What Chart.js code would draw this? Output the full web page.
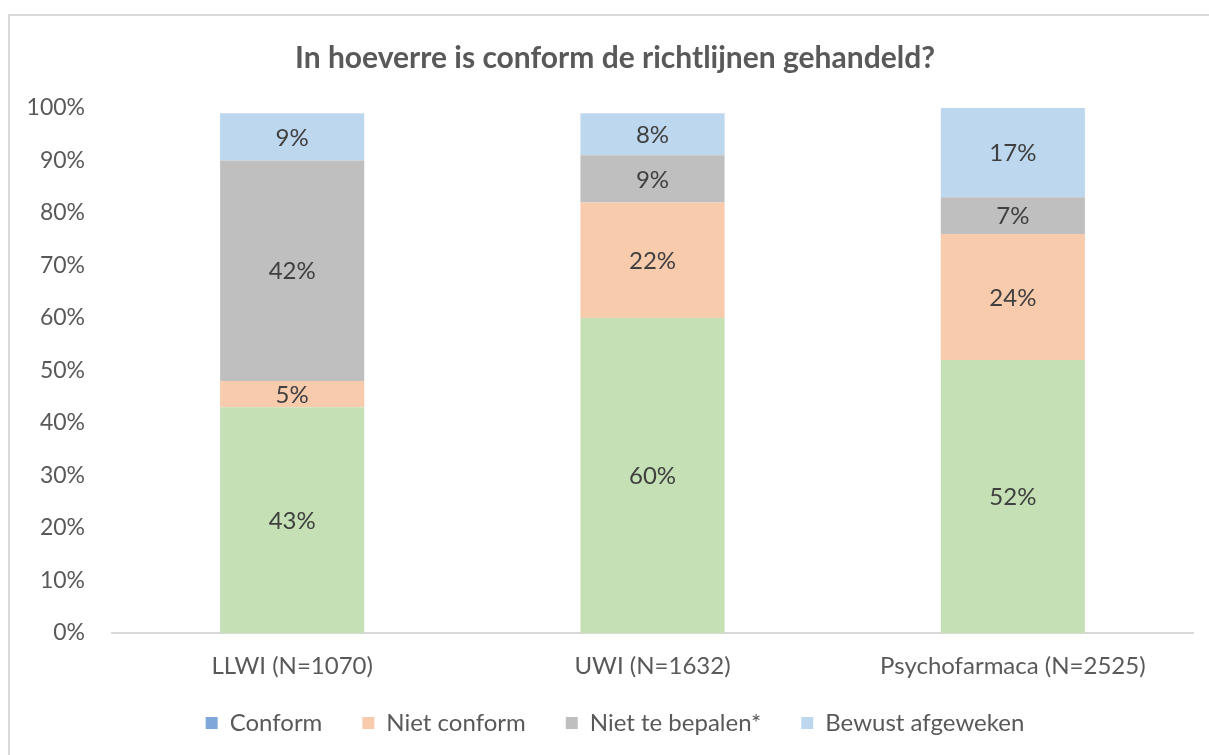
<!DOCTYPE html>
<html>
<head>
<meta charset="utf-8">
<script src="https://cdn.jsdelivr.net/npm/chart.js@4"></script>
<style>
  html, body { margin: 0; padding: 0; background: #fff; overflow: hidden; }
  #wrap { position: relative; width: 1209px; height: 755px; }
  #frame {
    position: absolute; left: 8px; top: 14px; width: 1300px; height: 900px;
    border-left: 2px solid #D9D9D9; border-top: 2px solid #D9D9D9;
    pointer-events: none;
  }
</style>
</head>
<body>
<div id="wrap">
  <canvas id="chart" width="1209" height="755"></canvas>
  <div id="frame"></div>
</div>
<script>
// data
const categories = ['LLWI (N=1070)', 'UWI (N=1632)', 'Psychofarmaca (N=2525)'];
const seriesNames = ['Conform', 'Niet conform', 'Niet te bepalen*', 'Bewust afgeweken'];
const conform = [43, 60, 52];
const nietConform = [5, 22, 24];
const nietTeBepalen = [42, 9, 7];
const bewustAfgeweken = [9, 8, 17];
const yTicks = [0, 10, 20, 30, 40, 50, 60, 70, 80, 90, 100];

// kleuren
const barColors = ['#C5E0B4', '#F8CBAD', '#BFBFBF', '#BDD7EE'];
const legendColors = ['#7FA7DA', '#F8CBAD', '#BFBFBF', '#BDD7EE'];

const FONT = 'Lato, "Liberation Sans", sans-serif';

// labels midden in elk segment
const segmentLabels = {
    id: 'segmentLabels',
    afterDatasetsDraw(chart) {
        const ctx = chart.ctx;
        ctx.save();
        ctx.font = '24px ' + FONT;
        ctx.fillStyle = '#404040';
        ctx.textAlign = 'center';
        ctx.textBaseline = 'middle';
        chart.data.datasets.forEach((ds, i) => {
            const meta = chart.getDatasetMeta(i);
            meta.data.forEach((bar, j) => {
                const p = bar.getProps(['x', 'y', 'base'], true);
                ctx.fillText(ds.data[j] + '%', p.x, (p.y + p.base) / 2 + 1);
            });
        });
        ctx.restore();
    }
};

// tick labels niet afknippen aan de rand van de as
function noLabelClip(scale) {
    scale._computeLabelArea = () => undefined;
}

const allSeries = [conform, nietConform, nietTeBepalen, bewustAfgeweken];

new Chart(document.getElementById('chart'), {
    type: 'bar',
    data: {
        labels: categories,
        datasets: allSeries.map((values, i) => ({
            label: seriesNames[i],
            data: values,
            backgroundColor: barColors[i],
            borderWidth: 0,
            categoryPercentage: 1,
            barPercentage: 0.4
        }))
    },
    options: {
        responsive: false,
        animation: false,
        layout: {
            padding: { left: 37, right: 16, top: 0, bottom: 10 }
        },
        plugins: {
            title: {
                display: true,
                text: 'In hoeverre is conform de richtlijnen gehandeld?',
                color: '#595959',
                font: { family: FONT, size: 30, weight: 'bold' },
                padding: { top: 40, bottom: 32 }
            },
            legend: {
                position: 'bottom',
                labels: {
                    color: '#595959',
                    font: { family: FONT, size: 24 },
                    boxWidth: 12,
                    boxHeight: 12,
                    padding: 40,
                    generateLabels(chart) {
                        return chart.data.datasets.map((ds, i) => ({
                            text: ds.label,
                            fillStyle: legendColors[i],
                            strokeStyle: legendColors[i],
                            lineWidth: 0,
                            fontColor: '#595959',
                            datasetIndex: i
                        }));
                    }
                }
            },
            tooltip: { enabled: false }
        },
        scales: {
            x: {
                stacked: true,
                grid: { display: false, drawTicks: false },
                border: { display: true, color: '#D9D9D9', width: 2 },
                ticks: {
                    color: '#595959',
                    font: { family: FONT, size: 24 },
                    padding: 19
                },
                afterFit(scale) {
                    scale.height = 38;
                    noLabelClip(scale);
                }
            },
            y: {
                stacked: true,
                min: 0,
                max: 100,
                grid: { display: false, drawTicks: false },
                border: { display: false },
                afterBuildTicks(scale) {
                    scale.ticks = yTicks.map(v => ({ value: v }));
                },
                ticks: {
                    color: '#595959',
                    font: { family: FONT, size: 23 },
                    padding: 27,
                    callback: v => v + '%'
                },
                afterFit(scale) {
                    scale.width = 75;
                    noLabelClip(scale);
                }
            }
        }
    },
    plugins: [segmentLabels]
});
</script>
</body>
</html>
